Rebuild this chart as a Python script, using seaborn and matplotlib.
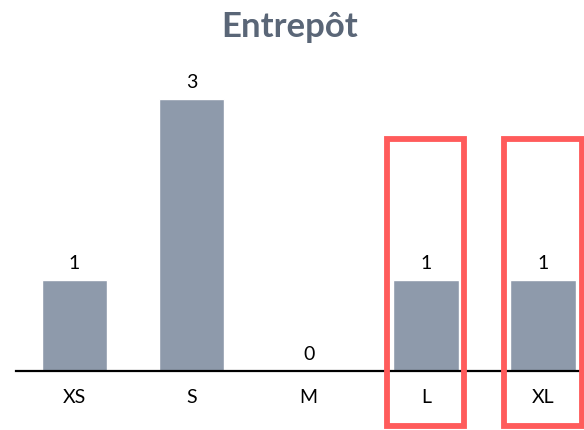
import matplotlib
matplotlib.use("Agg")
import matplotlib.pyplot as plt
import seaborn as sns
import pandas as pd
from matplotlib.patches import Rectangle

categories = ["XS", "S", "M", "L", "XL"]
values = [1, 3, 0, 1, 1]
highlighted = ["L", "XL"]
title = "Entrepôt"

sns.set_theme(style="white")
plt.rcParams['font.family'] = ['Lato', 'DejaVu Sans']

W, H = 584, 431
fig = plt.figure(figsize=(W / 100, H / 100), dpi=100)
step = 117.1
left_px = 74.5 - step / 2
base_px = 372
unit_px = 90.7
ymax = 3.6
ax = fig.add_axes([left_px / W, 1 - base_px / H, 5 * step / W, ymax * unit_px / H])

df = pd.DataFrame({"cat": categories, "val": values})
sns.barplot(data=df, x="cat", y="val", color="#8e9aab", saturation=1, width=0.56, ax=ax)
ax.set_ylim(0, ymax)
ax.set_xlim(-0.5, 4.5)
ax.set_xlabel("")
ax.set_ylabel("")
ax.set_yticks([])
for s in ["top", "right", "left"]:
    ax.spines[s].set_visible(False)
ax.spines["bottom"].set_color("black")
ax.spines["bottom"].set_linewidth(1.6)
ax.tick_params(axis="x", length=0, pad=12, labelsize=14, labelcolor="black")

for i, v in enumerate(values):
    ax.text(i, v + 0.1, str(v), ha="center", va="bottom", fontsize=14, color="black")

for c in highlighted:
    i = categories.index(c)
    r = Rectangle((i - 0.33, -0.605), 0.66, 2.56 + 0.605, fill=False,
                  edgecolor="#ff5b5b", linewidth=4.2, clip_on=False, zorder=5)
    ax.add_patch(r)

fig.text(290 / W, 1 - 27 / H, title, ha="center", va="center", fontsize=25,
         fontweight="bold", color="#5a6677")

fig.savefig("out.png", dpi=100)
